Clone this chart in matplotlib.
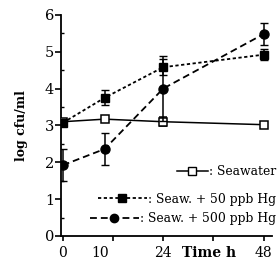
import numpy as np
import matplotlib.pyplot as plt
from matplotlib.lines import Line2D
from matplotlib.legend import Legend

# %% datos
tiempo = [0, 10, 24, 48]

agua_mar = [3.10, 3.17, 3.10, 3.02]
agua_mar_err = [0.05, 0.05, 0.12, 0.06]

hg_50 = [3.07, 3.75, 4.58, 4.92]
hg_50_err = [0.08, 0.20, 0.22, 0.15]

hg_500 = [1.92, 2.36, 4.00, 5.48]
hg_500_err = [0.44, 0.44, 0.88, 0.30]

etiquetas = [': Seawater', ': Seaw. + 50 ppb Hg', ': Seaw. + 500 ppb Hg']

# %% grafico
plt.rcParams['font.family'] = ['DejaVu Serif']

fig = plt.figure(figsize=(2.79, 2.61), dpi=100)
ax = fig.add_axes([0.219, 0.096, 0.756, 0.847])

ax.errorbar(tiempo, agua_mar, yerr=agua_mar_err, color='k', lw=1.1,
            marker='s', ms=6, mfc='white', mec='k', mew=1.1,
            capsize=3, elinewidth=1.1, zorder=3)
ax.errorbar(tiempo, hg_50, yerr=hg_50_err, color='k', lw=1.3,
            ls=(0, (1.8, 1.4)), marker='s', ms=6,
            capsize=3, elinewidth=1.1, zorder=4)
ax.errorbar(tiempo, hg_500, yerr=hg_500_err, color='k', lw=1.3,
            ls=(0, (3.8, 2.2)), marker='o', ms=6.5,
            capsize=3, elinewidth=1.1, zorder=4)

ax.set_xlim(-0.4, 50)
ax.set_ylim(0, 6)
ax.spines['top'].set_visible(False)
ax.spines['right'].set_visible(False)
ax.spines['left'].set_linewidth(1.3)
ax.spines['bottom'].set_linewidth(1.3)

ax.set_yticks(range(0, 7))
ax.set_yticks(np.arange(0.5, 6, 0.5), minor=True)
ax.tick_params(axis='y', which='major', direction='out', length=4, width=1.2,
               labelsize=10.5, pad=1)
ax.tick_params(axis='y', which='minor', direction='in', length=2.5, width=1)

ax.set_xticks([0, 12, 24, 36, 48])
ax.set_xticklabels(['0', '', '24', '', '48'])
ax.tick_params(axis='x', direction='out', length=3.5, width=1.2,
               labelsize=10, pad=4)
trans = ax.get_xaxis_transform()
ax.text(9, -0.045, '10', transform=trans, ha='center', va='top', fontsize=10)
ax.text(35, -0.045, 'Time h', transform=trans, ha='center', va='top',
        fontsize=10, fontweight='bold')

ax.set_ylabel('log cfu/ml', fontsize=9, fontweight='bold', labelpad=12)

# leyenda: una por fila, alineada a la derecha
estilos = [dict(ls='-', marker='s', mfc='white', lw=1.1),
           dict(ls=(0, (1.8, 1.4)), marker='s', mfc='k', lw=1.3),
           dict(ls=(0, (3.8, 2.2)), marker='o', mfc='k', lw=1.3)]
largos = [2.5, 4.0, 4.0]
alturas = [0.29, 0.167, 0.077]
for est, lab, hl, yy in zip(estilos, etiquetas, largos, alturas):
    h = Line2D([], [], color='k', mec='k', ms=6, **est)
    leg = Legend(ax, [h], [lab], loc='center right',
                 bbox_to_anchor=(1.02, yy), frameon=False, fontsize=8.9,
                 handlelength=hl, handletextpad=0.1, borderpad=0,
                 borderaxespad=0)
    ax.add_artist(leg)

fig.savefig('out.png', dpi=100)
